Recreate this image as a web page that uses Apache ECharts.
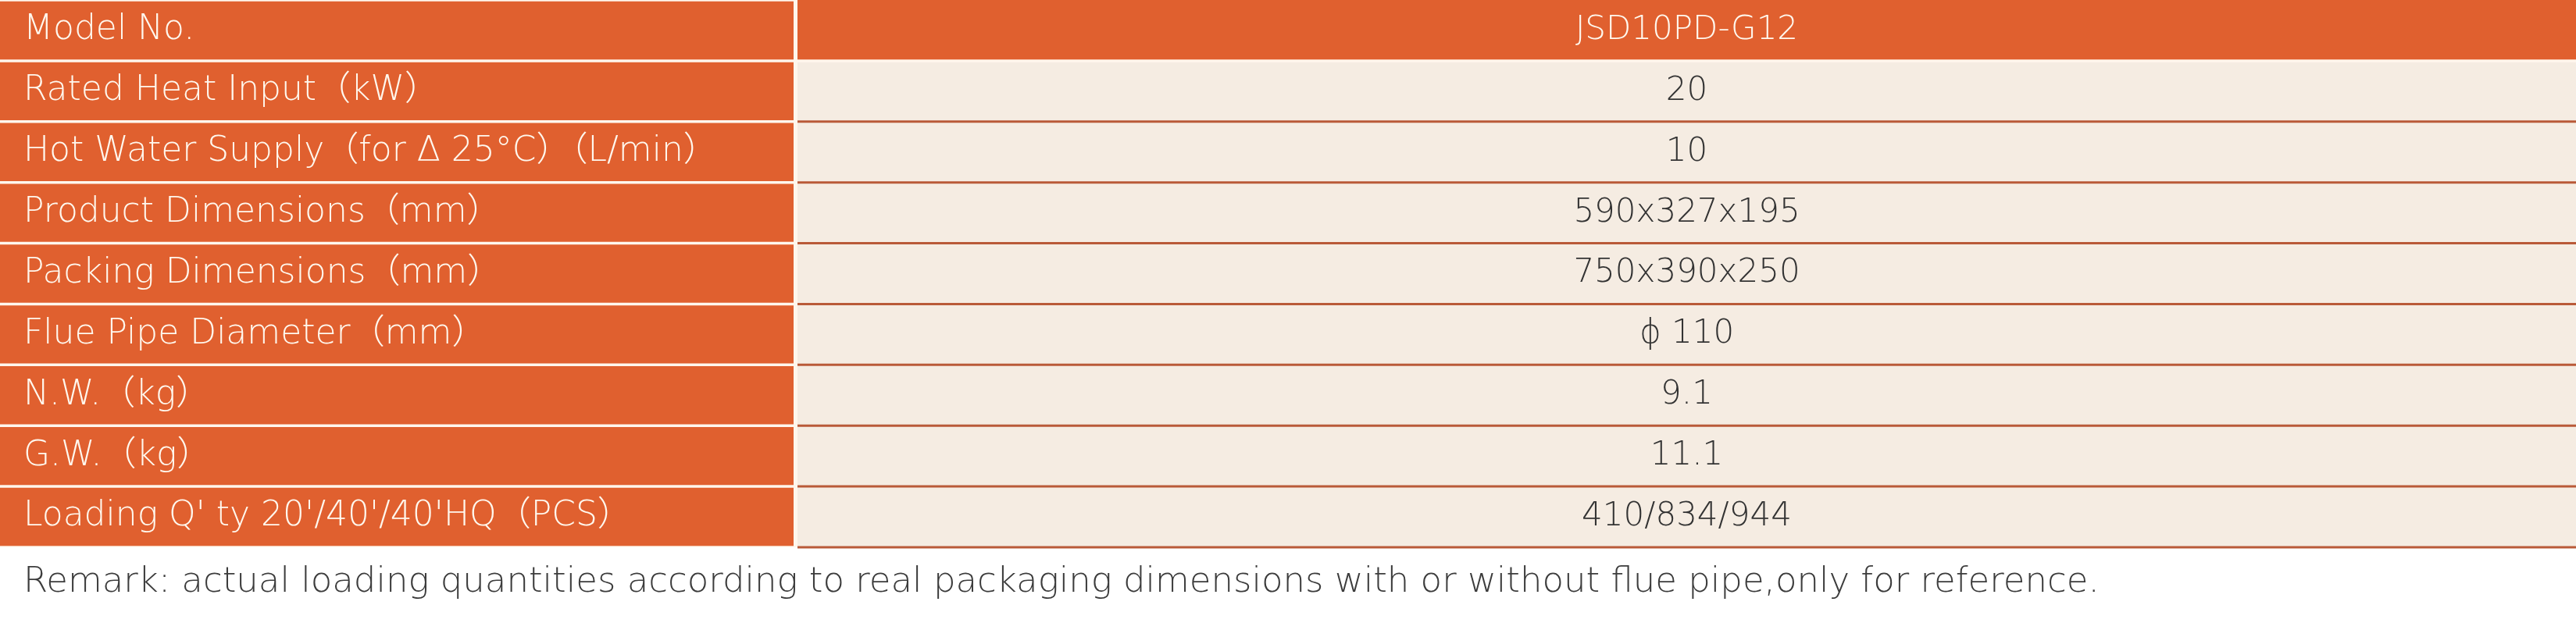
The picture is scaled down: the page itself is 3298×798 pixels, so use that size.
<!DOCTYPE html>
<html>
    <head>
        <meta charset="UTF-8" />
        <script src="https://cdn.jsdelivr.net/npm/echarts@6/dist/echarts.min.js"></script>
        <style>
            html, body { margin: 0; padding: 0; background: #ffffff; }
        </style>
    </head>

    <body>
        <div id="main" style="width: 3298px; height: 798px"></div>
        <script type="text/javascript">
            // spec rows (left column = item, right column = value)
            var rowLabels = [
                'Model No.',
                'Rated Heat Input（kW）',
                'Hot Water Supply（for Δ 25°C）（L/min）',
                'Product Dimensions（mm）',
                'Packing Dimensions（mm）',
                'Flue Pipe Diameter（mm）',
                'N.W.（kg）',
                'G.W.（kg）',
                'Loading Q\' ty 20\'/40\'/40\'HQ（PCS）'
            ];
            var rowValues = [
                'JSD10PD-G12',
                '20',
                '10',
                '590x327x195',
                '750x390x250',
                'ϕ 110',
                '9.1',
                '11.1',
                '410/834/944'
            ];
            var remarkText = 'Remark: actual loading quantities according to real packaging dimensions with or without flue pipe,only for reference.';

            var ORANGE = '#e0602f';
            var CREAM = '#f5ece2';
            var GAP = '#fff6ec';
            var BROWN = '#b95a38';
            var LABEL_COL = 1016;
            var FONT = "'DejaVu Sans', 'Noto Sans CJK SC', sans-serif";

            var chartDom = document.getElementById('main');
            var myChart = echarts.init(chartDom);

            function renderRow(params, api) {
                var i = api.value(1);
                var cs = params.coordSys;
                var cy = api.coord([0, i])[1];
                var h = api.size([0, 1])[1];
                var top = cy - h / 2;
                var splitX = cs.x + LABEL_COL;
                var rightX = splitX + 5;
                var rightW = cs.x + cs.width - rightX;
                var children = [];

                children.push({
                    type: 'rect',
                    shape: { x: cs.x, y: top, width: cs.width, height: h },
                    style: { fill: GAP }
                });
                children.push({
                    type: 'rect',
                    shape: { x: cs.x, y: top + 1.75, width: LABEL_COL, height: h - 3.5 },
                    style: { fill: ORANGE }
                });
                if (i === 0) {
                    children.push({
                        type: 'rect',
                        shape: { x: rightX, y: top, width: rightW, height: h - 1.75 },
                        style: { fill: ORANGE }
                    });
                } else {
                    children.push({
                        type: 'rect',
                        shape: { x: rightX, y: i === 1 ? top + 1.75 : top, width: rightW, height: h },
                        style: { fill: CREAM }
                    });
                    if (i > 1) {
                        children.push({
                            type: 'rect',
                            shape: { x: rightX, y: top - 1.5, width: rightW, height: 3 },
                            style: { fill: BROWN }
                        });
                    }
                    if (i === rowLabels.length - 1) {
                        children.push({
                            type: 'rect',
                            shape: { x: rightX, y: top + h - 1.5, width: rightW, height: 3 },
                            style: { fill: BROWN }
                        });
                    }
                }
                children.push({
                    type: 'text',
                    x: cs.x + 30,
                    y: cy,
                    style: {
                        text: rowLabels[i],
                        fill: '#fff8ee',
                        font: '200 44px ' + FONT,
                        verticalAlign: 'middle',
                        align: 'left'
                    }
                });
                children.push({
                    type: 'text',
                    x: rightX + rightW / 2,
                    y: cy,
                    style: {
                        text: rowValues[i],
                        fill: i === 0 ? '#fff8ee' : '#333333',
                        font: '200 42px ' + FONT,
                        verticalAlign: 'middle',
                        align: 'center'
                    }
                });
                return { type: 'group', children: children };
            }

            var option = {
                animation: false,
                backgroundColor: '#ffffff',
                title: {
                    text: remarkText,
                    left: 30,
                    top: 724,
                    padding: 0,
                    textStyle: {
                        fontFamily: FONT,
                        fontSize: 45,
                        fontWeight: 200,
                        color: '#3c3c3c'
                    }
                },
                grid: { left: 0, right: 0, top: -6, bottom: 97 },
                xAxis: { type: 'value', min: 0, max: 1, show: false },
                yAxis: {
                    type: 'category',
                    inverse: true,
                    data: rowLabels,
                    show: false
                },
                series: [
                    {
                        type: 'custom',
                        renderItem: renderRow,
                        data: rowLabels.map(function (l, i) { return [0, i]; }),
                        encode: { x: 0, y: 1 }
                    }
                ]
            };

            option && myChart.setOption(option);
        </script>
    </body>
</html>
